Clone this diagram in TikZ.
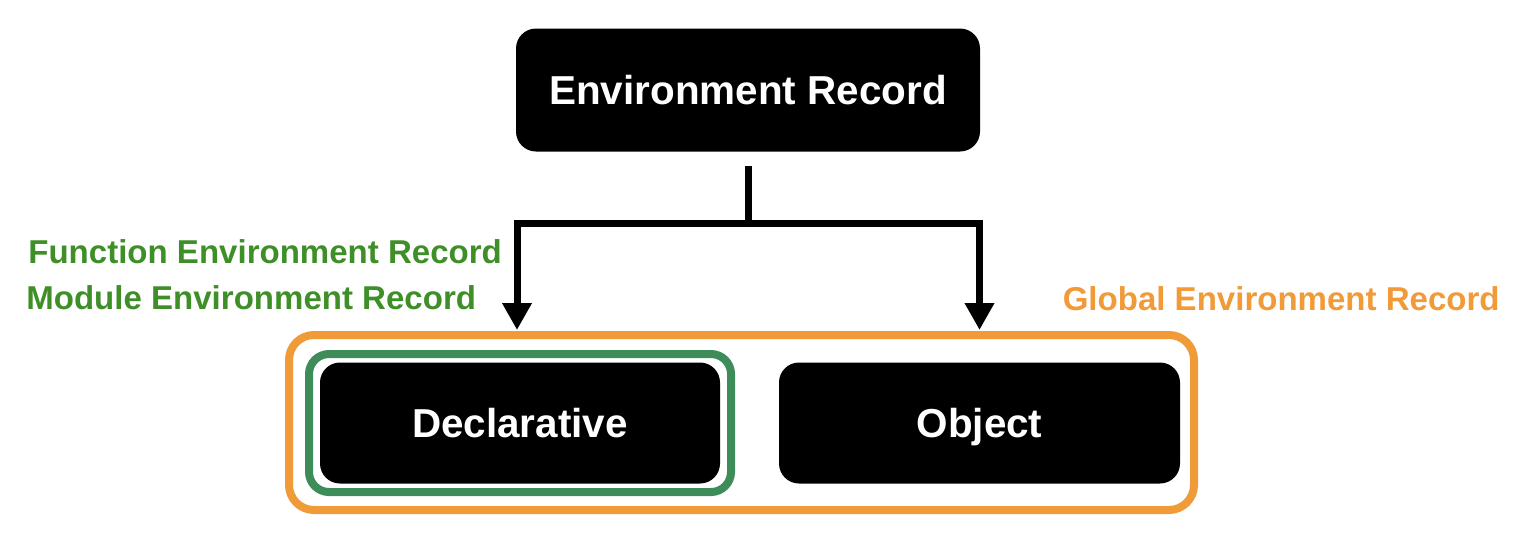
\documentclass[tikz,border=0pt]{standalone}
\usepackage{fontspec}
\setmainfont{Liberation Sans}
\usepackage{tikz}
\usepackage{xcolor}
\definecolor{RecOrange}{HTML}{F19A38}
\definecolor{BoxGreen}{HTML}{3D8C59}
\definecolor{TextGreen}{HTML}{3F8F29}
\usetikzlibrary{arrows.meta, positioning, calc}

\begin{document}
\begin{tikzpicture}[
        recbox/.style={rectangle, rounded corners=0.4cm, fill=black, text=white, font=\fontsize{23}{28}\selectfont\bfseries, text height=16.5pt, text depth=0pt, minimum height=2.42cm},
        frame/.style={rectangle, draw, line width=0.16cm},
        tag/.style={font=\fontsize{18.8}{22}\selectfont\bfseries, inner sep=0pt},
        link/.style={line width=0.14cm, black}
    ]
        \useasboundingbox (0,0) rectangle (30.4,10.84);

        \node (env) [recbox, minimum width=9.28cm, minimum height=2.46cm] at (14.96,9.04) {Environment Record};
        \node (global) [frame, RecOrange, rounded corners=0.5cm, minimum width=18.1cm, minimum height=3.5cm] at (14.83,2.39) {};
        \node (decl) [recbox, minimum width=8cm] at (10.4,2.38) {Declarative};
        \node (obj) [recbox, minimum width=8.02cm] at (19.59,2.38) {Object};
        \node (func) [frame, BoxGreen, rounded corners=0.4cm, minimum width=8.44cm, minimum height=2.76cm] at (decl.center) {};

        \node (funclabel) [tag, TextGreen, anchor=west] at (0.56,5.8) {Function Environment Record};
        \node (modlabel) [tag, TextGreen, anchor=west] at (0.52,4.88) {Module Environment Record};
        \node (globlabel) [tag, RecOrange, anchor=east] at (30.0,4.86) {Global Environment Record};

        \coordinate (split) at (14.96,6.38);
        \draw[link, shorten <=0.28cm] (env.south) -- (split);
        \draw[link, -{Triangle[width=0.56cm, length=0.54cm]}, shorten >=0.02cm] (split) -| ($(decl.center |- global.north)+(-0.06,0)$);
        \draw[link, -{Triangle[width=0.56cm, length=0.54cm]}, shorten >=0.02cm] (split) -| (obj.center |- global.north);
    \end{tikzpicture}
\end{document}
